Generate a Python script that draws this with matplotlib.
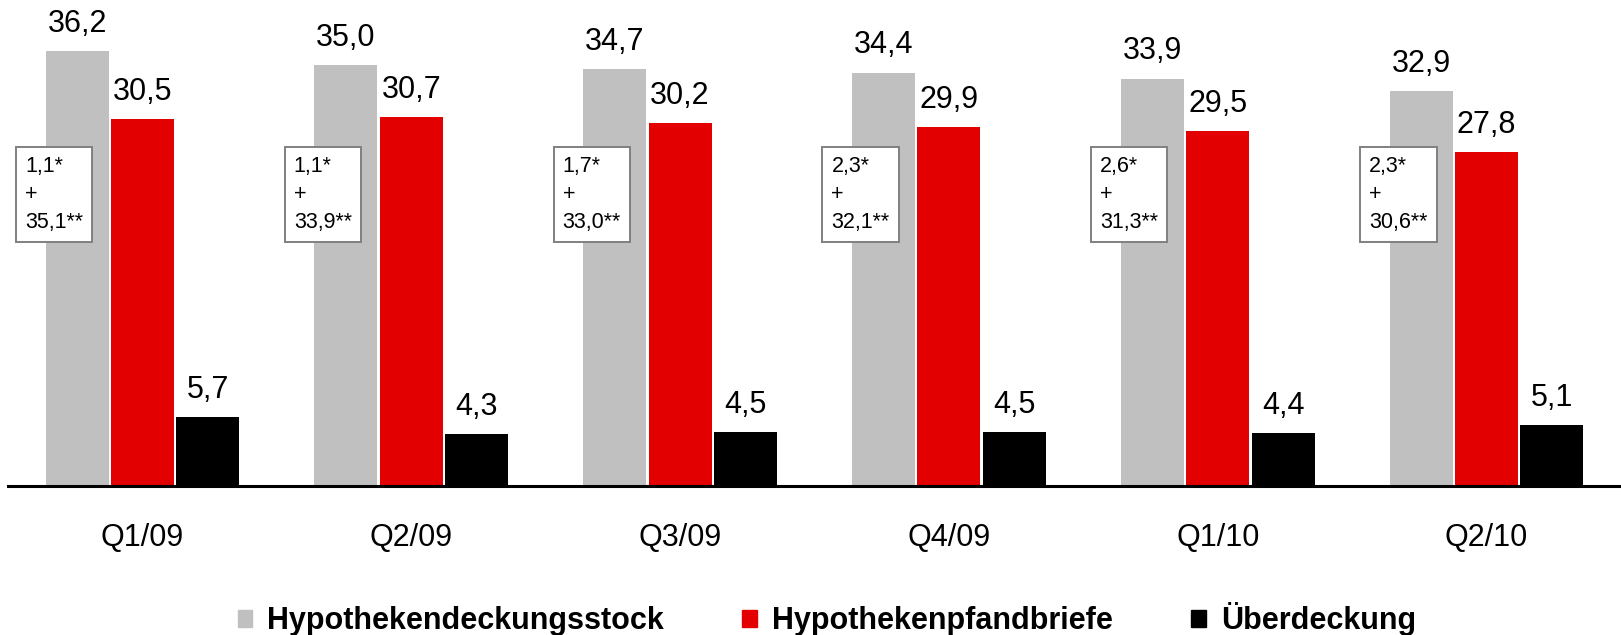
import matplotlib
matplotlib.use("Agg")
import matplotlib.pyplot as plt
from matplotlib.patches import Patch
import numpy as np

plt.rcParams['font.family'] = ['Liberation Sans', 'DejaVu Sans']

# Werte in Mrd. EUR
quartale = ['Q1/09', 'Q2/09', 'Q3/09', 'Q4/09', 'Q1/10', 'Q2/10']
deckungsstock = [36.2, 35.0, 34.7, 34.4, 33.9, 32.9]
pfandbriefe = [30.5, 30.7, 30.2, 29.9, 29.5, 27.8]
ueberdeckung = [5.7, 4.3, 4.5, 4.5, 4.4, 5.1]
# Zusammensetzung Deckungsstock (Kasten)
anteil_stern = [1.1, 1.1, 1.7, 2.3, 2.6, 2.3]
anteil_zwei_sterne = [35.1, 33.9, 33.0, 32.1, 31.3, 30.6]

grau = '#C0C0C0'
rot = '#E30000'
schwarz = '#000000'


def de(v):
    return ('%.1f' % v).replace('.', ',')


fig = plt.figure(figsize=(16.21, 6.35), dpi=100)
ax = fig.add_axes([8 / 1621, 149 / 635, 1613 / 1621, 486 / 635])

x = np.arange(len(quartale))
w = 0.234
off = 0.243

serien = [(deckungsstock, grau, -off), (pfandbriefe, rot, 0.0), (ueberdeckung, schwarz, off)]
for werte, farbe, dx in serien:
    bars = ax.bar(x + dx, werte, width=w, color=farbe, zorder=2)
    for b, v in zip(bars, werte):
        ax.annotate(de(v), (b.get_x() + b.get_width() / 2, b.get_height()),
                    xytext=(0, 13.7), textcoords='offset points',
                    ha='center', va='baseline', fontsize=22)

# Kaesten mit Zusammensetzung
for i in range(len(quartale)):
    txt = de(anteil_stern[i]) + '*\n+\n' + de(anteil_zwei_sterne[i]) + '**'
    ax.text(i - 0.437, 27.45, txt, ha='left', va='top', fontsize=15.5,
            linespacing=1.45, zorder=4,
            bbox=dict(boxstyle='square,pad=0.42', facecolor='white',
                      edgecolor='#808080', linewidth=1.4))

ax.set_xlim(-0.5, len(quartale) - 0.5)
ax.set_ylim(0, 486 / 12.02)
ax.set_xticks(x)
ax.set_xticklabels(quartale, fontsize=22)
ax.tick_params(axis='x', length=0, pad=27)
ax.set_yticks([])
for s in ['top', 'left', 'right']:
    ax.spines[s].set_visible(False)
ax.spines['bottom'].set_linewidth(2.2)
ax.spines['bottom'].set_zorder(3)

handles = [Patch(color=grau, label='Hypothekendeckungsstock'),
           Patch(color=rot, label='Hypothekenpfandbriefe'),
           Patch(color=schwarz, label='Überdeckung')]
fig.legend(handles=handles, loc='center', bbox_to_anchor=(0.51, 16 / 635),
           ncol=3, frameon=False, prop={'size': 22, 'weight': 'bold'},
           handlelength=0.49, handleheight=0.49, handletextpad=0.49,
           columnspacing=2.55, borderaxespad=0, borderpad=0)

fig.savefig('out.png', dpi=100)
